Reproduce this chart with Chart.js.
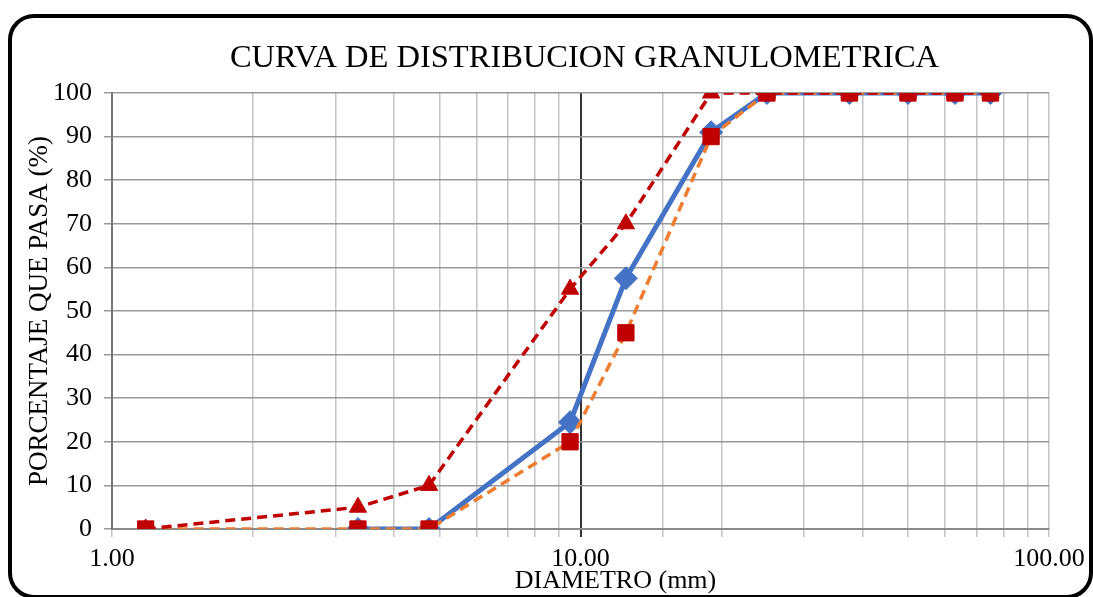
<!DOCTYPE html>
<html>
<head>
<meta charset="utf-8">
<script src="https://cdn.jsdelivr.net/npm/chart.js@4/dist/chart.umd.min.js"></script>
<style>
  html, body { margin: 0; padding: 0; background: #fff; }
  #wrap { width: 1093px; height: 597px; position: relative; }
</style>
</head>
<body>
<div id="wrap"><canvas id="chart"></canvas></div>
<script>
// sieve openings (mm) and % passing
const sieveSizes = [1.18, 3.35, 4.75, 9.5, 12.5, 19, 25, 37.5, 50, 63, 75];
const passingSample = [null, 0, 0, 24.5, 57.5, 91, 100, 100, 100, 100, 100];
const lowerLimit = [0, 0, 0, 20, 45, 90, 100, 100, 100, 100, 100];
const upperLimit = [0, 5, 10, 55, 70, 100, 100, 100, 100, 100, 100];
const yTicks = [0, 10, 20, 30, 40, 50, 60, 70, 80, 90, 100];

const chartTitle = 'CURVA DE DISTRIBUCION GRANULOMETRICA';
const xTitle = 'DIAMETRO (mm)';
const serif = "'Liberation Serif', 'Times New Roman', serif";

const toPoints = vals => sieveSizes.map((x, i) => ({ x, y: vals[i] }));

// title, x axis title (moved right like in the sheet) and rounded frame
const framePlugin = {
    id: 'frame',
    afterDraw(chart) {
        const { ctx, chartArea } = chart;
        const mid = (chartArea.left + chartArea.right) / 2;
        ctx.save();
        ctx.fillStyle = '#000';
        ctx.textAlign = 'center';
        ctx.textBaseline = 'middle';
        ctx.font = '32.5px ' + serif;
        ctx.fillText(chartTitle, mid + 4, 58);
        ctx.font = '26px ' + serif;
        ctx.fillText(xTitle, mid + 35, 581);
        ctx.lineWidth = 4;
        ctx.strokeStyle = '#000';
        ctx.beginPath();
        ctx.roundRect(10, 16, 1081, 581, 24);
        ctx.stroke();
        ctx.restore();
    }
};

new Chart(document.getElementById('chart'), {
    type: 'line',
    data: {
        datasets: [
            {
                label: 'Limite superior',
                data: toPoints(upperLimit),
                borderColor: '#C00000',
                backgroundColor: '#C00000',
                borderWidth: 3.5,
                borderDash: [10, 6],
                pointStyle: 'triangle',
                pointRadius: 10,
                pointBorderWidth: 1,
                order: 1
            },
            {
                label: 'Muestra',
                data: toPoints(passingSample),
                borderColor: '#4472C4',
                backgroundColor: '#4472C4',
                borderWidth: 5,
                pointStyle: 'rectRot',
                pointRadius: 11.5,
                pointBorderWidth: 1,
                order: 3
            },
            {
                label: 'Limite inferior',
                data: toPoints(lowerLimit),
                borderColor: '#ED7D31',
                backgroundColor: '#C00000',
                pointBorderColor: '#C00000',
                borderWidth: 3.5,
                borderDash: [10, 6],
                pointStyle: 'rect',
                pointRadius: 11.5,
                pointBorderWidth: 1,
                order: 2
            }
        ]
    },
    options: {
        responsive: true,
        maintainAspectRatio: false,
        animation: false,
        layout: { padding: { top: 93, right: 44, left: 0, bottom: 0 } },
        plugins: {
            legend: { display: false },
            tooltip: { enabled: false }
        },
        scales: {
            x: {
                type: 'logarithmic',
                min: 1,
                max: 100,
                afterFit: s => { s.height = 68; },
                grid: {
                    color: ctx => (ctx.tick && ctx.tick.value === 10 ? '#333' : '#c4c4c4'),
                    lineWidth: ctx => (ctx.tick && ctx.tick.value === 10 ? 2 : 1.5),
                    tickLength: 8
                },
                border: { color: '#8a8a8a', width: 2 },
                ticks: {
                    autoSkip: false,
                    maxRotation: 0,
                    padding: 7,
                    color: '#000',
                    font: { family: serif, size: 26 },
                    callback: v => ([1, 10, 100].includes(v) ? v.toFixed(2) : '')
                }
            },
            y: {
                min: 0,
                max: 100,
                afterFit: s => { s.width = 112; },
                afterBuildTicks: s => { s.ticks = yTicks.map(v => ({ value: v })); },
                grid: { color: '#999', lineWidth: 1.5, tickLength: 8 },
                border: { color: '#777', width: 2 },
                ticks: {
                    padding: 12,
                    color: '#000',
                    font: { family: serif, size: 26 }
                },
                title: {
                    display: true,
                    text: 'PORCENTAJE QUE PASA (%)',
                    color: '#000',
                    font: { family: serif, size: 27 },
                    padding: { top: 24, bottom: 0 }
                }
            }
        }
    },
    plugins: [framePlugin]
});
</script>
</body>
</html>
